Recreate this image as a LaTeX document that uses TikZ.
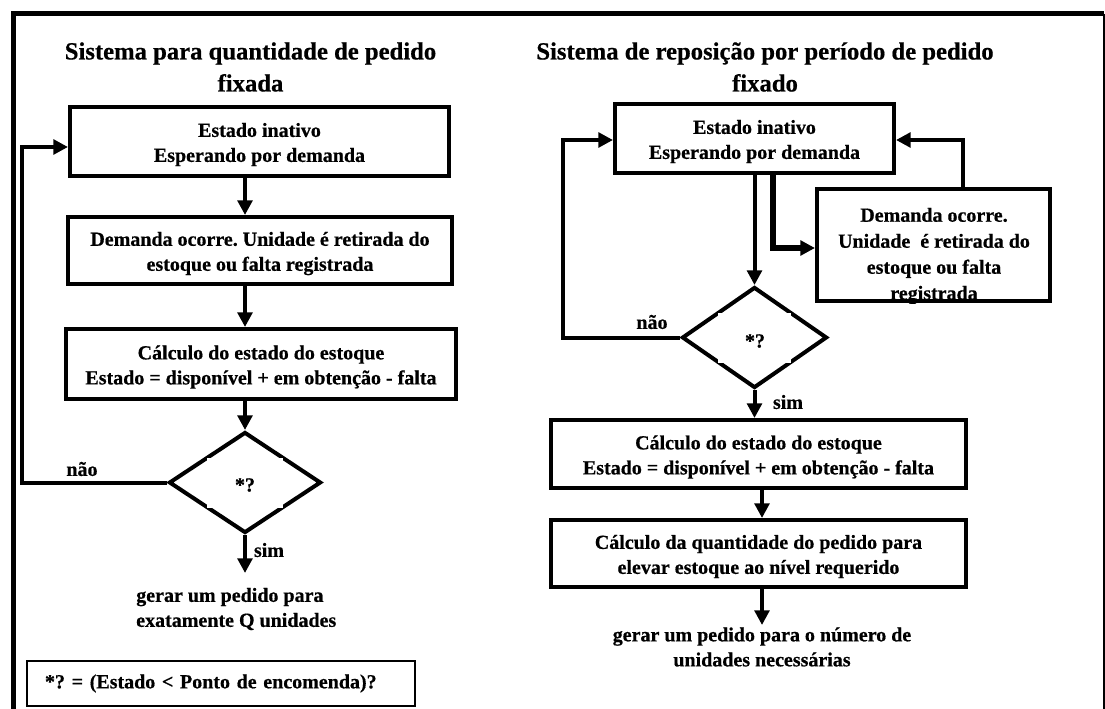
\documentclass[tikz,border=0pt]{standalone}
\usepackage{fontspec}
\setmainfont{Liberation Serif}[BoldFeatures={FakeBold=0.6}]
\usetikzlibrary{arrows.meta,shapes.geometric,calc}
\frenchspacing
\newcommand\bodyf{\fontsize{15pt}{18.75pt}\selectfont\bfseries}
\newcommand\titlef{\fontsize{18.5pt}{24pt}\selectfont\bfseries}
\tikzset{
  stepbox/.style={draw, line width=3pt, rectangle, align=center, font=\bodyf, inner sep=0pt},
  decbox/.style={draw, line width=3pt, diamond, inner sep=0pt},
  arr/.style={line width=3pt, -{Triangle[length=11pt,width=11pt]}},
  lab/.style={font=\bodyf, inner sep=0pt},
  ttl/.style={font=\titlef, align=center, inner sep=0pt},
}
\begin{document}
\begin{tikzpicture}[x=0.75pt,y=-0.75pt]
\useasboundingbox (0,0) rectangle (1105,709);
% frame
\draw[line width=3.75pt] (13.5,709) -- (13.5,14) -- (1104,14);
\draw[line width=1.5pt] (1103.5,14) -- (1103.5,709);

% ---------- left system ----------
\node[ttl] (t1) at (250.5,67) {Sistema para quantidade de pedido\\fixada};
\node[stepbox, minimum width=284.25pt, minimum height=51.75pt] (b1) at (259.5,141.5) {\rule{0pt}{15pt}Estado inativo\\Esperando por demanda};
\node[stepbox, minimum width=288pt, minimum height=50.25pt] (b2) at (260,250.5) {\rule{0pt}{15pt}Demanda ocorre. Unidade é retirada do\\estoque ou falta registrada};
\node[stepbox, minimum width=292.5pt, minimum height=52.5pt] (b3) at (261,364) {\rule{0pt}{15pt}Cálculo do estado do estoque\\Estado = disponível + em obtenção - falta};
\node[decbox, minimum width=114pt, minimum height=75.75pt] (d1) at (245,482.5) {};
\fill[white] ($(d1.center)+(-38,-25)$) rectangle ($(d1.center)+(38,25)$);
\node[lab] (q1) at (245,485) {*?};
\node[lab] (n1) at (82,469) {não};
\node[lab] (s1) at (269,550) {sim};
\coordinate (endL) at (245,573);
\node[lab, align=left, anchor=west] (o1) at (136,609) {gerar um pedido para\\exatamente Q unidades};
\node[draw, line width=1.5pt, minimum width=291pt, minimum height=33.75pt, text width=264pt, inner xsep=13.5pt, inner ysep=0pt, align=left, font=\bodyf] (leg) at (221,683.5) {*? = (Estado < Ponto de encomenda)?};

\draw[arr] (d1.north |- b1.south) -- (d1.north |- b2.north);
\draw[arr] (d1.north |- b2.south) -- (d1.north |- b3.north);
\draw[arr] (d1.north |- b3.south) -- (d1.north);
\draw[arr] (d1.south) -- (endL);
\draw[arr] (d1.west) -| ($(b1.west)+(-46,5.5)$) -- ($(b1.west)+(0,5.5)$);

% ---------- right system ----------
\node[ttl] (t2) at (765,67) {Sistema de reposição por período de pedido\\fixado};
\node[stepbox, minimum width=209.25pt, minimum height=51.75pt] (bA) at (754.5,138.5) {\rule{0pt}{15pt}Estado inativo\\Esperando por demanda};
\node[stepbox, minimum width=174.75pt, minimum height=84pt] (bB) at (933.5,245) {};
\begin{scope}
  \clip (bB.north west) rectangle (bB.south east);
  \node[lab, align=center, font=\fontsize{15pt}{19.5pt}\selectfont\bfseries] (bBt) at (934,256) {Demanda ocorre.\\Unidade\ \ é retirada do\\estoque ou falta\\registrada};
\end{scope}
\node[decbox, minimum width=108.75pt, minimum height=75.75pt] (d2) at (754.5,337.5) {};
\fill[white] ($(d2.center)+(-36.5,-25)$) rectangle ($(d2.center)+(36.5,25)$);
\node[lab] (q2) at (755,341) {*?};
\node[lab] (n2) at (652,322) {não};
\node[lab] (s2) at (788,402) {sim};
\node[stepbox, minimum width=311.25pt, minimum height=51pt] (bC) at (758.5,454) {\rule{0pt}{15pt}Cálculo do estado do estoque\\Estado = disponível + em obtenção - falta};
\node[stepbox, minimum width=311.25pt, minimum height=50.25pt] (bD) at (758.5,553.5) {\rule{0pt}{15pt}Cálculo da quantidade do pedido para\\elevar estoque ao nível requerido};
\coordinate (endR) at (762,625);
\node[lab, align=center] (o2) at (762,647) {gerar um pedido para o número de\\unidades necessárias};

\draw[arr] (bA.south) -- (d2.north);
\draw[arr, line width=4pt] ($(bA.south)+(18.5,0)$) |- ($(bB.west)+(0,3)$);
\draw[arr] ($(bB.north)+(29.5,0)$) |- ($(bA.east)+(0,1.5)$);
\draw[arr] (d2.west) -| ($(bA.west)+(-50,1.5)$) -- ($(bA.west)+(0,1.5)$);
\draw[arr] (d2.south) -- (d2.south |- bC.north);
\draw[arr] (endR |- bC.south) -- (endR |- bD.north);
\draw[arr] (endR |- bD.south) -- (endR);
\end{tikzpicture}
\end{document}
